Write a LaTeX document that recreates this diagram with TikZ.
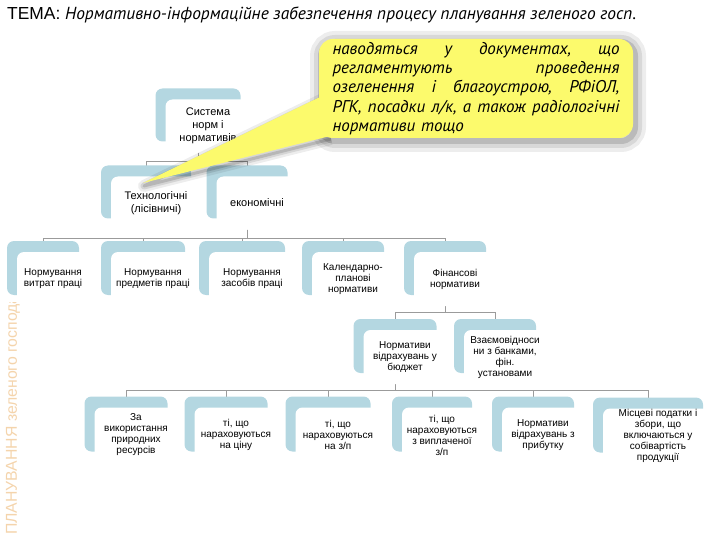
\documentclass[tikz,border=0pt]{standalone}
\usepackage{fontspec}
\setmainfont{Liberation Sans}
\newfontfamily\ptsans{PT Sans}
\usetikzlibrary{shadows,backgrounds}
\definecolor{bandblue}{RGB}{180,215,225}
\definecolor{linegray}{RGB}{155,155,155}
\definecolor{noteyellow}{RGB}{252,250,108}
\definecolor{sidetan}{RGB}{244,212,172}
\begin{document}
\begin{tikzpicture}[x=1pt,y=-1pt,
  card/.style={fill=white,rounded corners=7pt,inner sep=0pt,align=center,
    minimum width=#1,minimum height=54pt,
    general shadow={shadow xshift=-10pt,shadow yshift=11pt,fill=bandblue},
    font=\fontsize{10}{11}\selectfont},
  card/.default=82pt,
  topcard/.style={card=#1,minimum height=53pt,font=\fontsize{11}{13}\selectfont},
  link/.style={draw=linegray,line width=0.8pt},
  note/.style={fill=noteyellow,rounded corners=14pt,minimum width=314pt,minimum height=99pt,
    inner sep=0pt,align=left,text width=287pt,font=\ptsans\itshape\fontsize{17}{19.3}\selectfont,
    preaction={draw=black,opacity=0.07,line width=22pt,transform canvas={shift={(2pt,-3pt)}}},
    preaction={draw=black,opacity=0.09,line width=14pt,transform canvas={shift={(2pt,-3pt)}}},
    preaction={draw=black,opacity=0.14,line width=6pt,transform canvas={shift={(2pt,-3pt)}}}}]
\useasboundingbox (0,0) rectangle (720,540);

\node[anchor=base west,inner sep=0pt] (title) at (7,20) {\fontsize{17.4}{20}\selectfont ТЕМА: {\ptsans\itshape Нормативно-інформаційне забезпечення процесу планування зеленого госп.}};

\begin{scope}
\clip (0,302) rectangle (60,540);
\node[rotate=90,anchor=west,inner sep=0pt,text=sidetan,font=\fontsize{15.8}{16}\selectfont] (side) at (13,535) {ПЛАНУВАННЯ зеленого господарства};
\end{scope}

\node[topcard=85pt] (sys) at (208,126) {Система\\норм і\\нормативів};
\node[topcard=90pt] (tech) at (156,203) {Технологічні\\(лісівничі)};
\node[topcard=81pt] (econ) at (257,203) {економічні};

\node[card=72pt] (wage) at (53,279) {Нормування\\витрат праці};
\node[card=84pt] (obj) at (153,279) {Нормування\\предметів праці};
\node[card=86pt] (tool) at (252,279) {Нормування\\засобів праці};
\node[card=82pt] (cal) at (353,279) {Календарно-\\планові\\нормативи};
\node[card=82pt] (fin) at (455,279) {Фінансові\\нормативи};

\node[card=83pt] (budg) at (405,357) {Нормативи\\відрахувань у\\бюджет};
\node[card=82pt] (bank) at (505,357) {Взаємовідноси\\ни з банками,\\фін.\\установами};

\node[card=83pt,minimum height=55pt] (res) at (136,435) {За\\використання\\природних\\ресурсів};
\node[card=83pt,minimum height=55pt] (price) at (236,435) {ті, що\\нараховуються\\на ціну};
\node[card=85pt,minimum height=55pt] (pay) at (338,435) {ті, що\\нараховуються\\на з/п};
\node[card=80pt,minimum height=55pt] (paid) at (442,435) {ті, що\\нараховуються\\з виплаченої\\з/п};
\node[card=82pt,minimum height=55pt] (prof) at (543,435) {Нормативи\\відрахувань з\\прибутку};
\node[card=110pt,minimum height=55pt] (loc) at (658,436) {Місцеві податки і\\збори, що\\включаються у\\собівартість\\продукції};

\begin{pgfonlayer}{background}
\foreach \b in {tech,econ}
  \draw[link] ([xshift=-10pt]sys.south) -- ++(0,8.5) -| ([xshift=-10pt]\b.north);
\foreach \b in {wage,obj,tool,cal,fin}
  \draw[link] ([xshift=-10pt]econ.south) -- ++(0,8.5) -| ([xshift=-10pt]\b.north);
\foreach \b in {budg,bank}
  \draw[link] ([xshift=-10pt]fin.south) -- ++(0,6) -| ([xshift=-10pt]\b.north);
\foreach \b in {res,price,pay,paid,prof,loc}
  \draw[link] ([xshift=-10pt]budg.south) -- ++(0,6) -| ([xshift=-10pt]\b.north);
\end{pgfonlayer}

\coordinate (tip) at (143,183);
\coordinate (tailtop) at (322,96);
\coordinate (tailbot) at (330,136);
\foreach \w/\o in {12/0.07,7/0.1,3/0.14}
  \draw[line width=\w pt,opacity=\o,line join=round,transform canvas={shift={(1pt,-3pt)}}] (tailtop) -- (tip) -- (tailbot);
\node[note] (note) at (476,88.5) {%
\makebox[287pt]{наводяться\hfill у\hfill документах,\hfill що}\\
\makebox[287pt]{регламентують\hfill проведення}\\
\makebox[287pt]{озеленення\hfill і\hfill благоустрою,\hfill РФіОЛ,}\\
\makebox[287pt]{РГК,\hfill посадки\hfill л/к,\hfill а\hfill також\hfill радіологічні}\\
нормативи тощо};
\fill[noteyellow] (tailtop) -- (tip) -- (tailbot) -- cycle;
\end{tikzpicture}
\end{document}
